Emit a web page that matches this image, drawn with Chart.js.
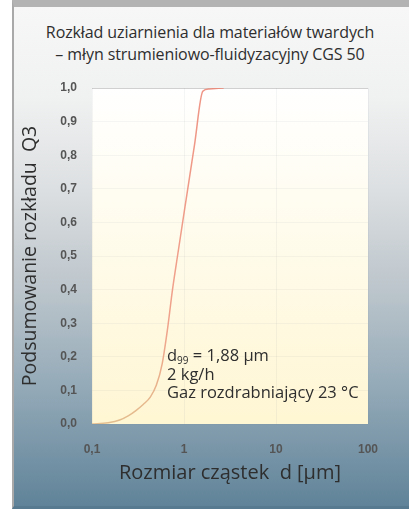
<!DOCTYPE html>
<html>
<head>
<meta charset="utf-8">
<script src="https://cdn.jsdelivr.net/npm/chart.js@4/dist/chart.umd.min.js"></script>
<style>
  html, body { margin: 0; padding: 0; background: #fff; }
  #frame {
    position: absolute; left: 12px; top: 0; width: 397px; height: 509px;
    box-sizing: border-box;
    border-top: 7px solid #b3b3b3;
    border-left: 2px solid #a9a9a9;
    border-bottom: 3px solid #577a90;
    background: linear-gradient(to bottom, #f7f7f7 0%, #f0f1f1 18%, #dde0e2 36%, #bdc6cc 56%, #94aab8 76%, #608399 100%);
  }
  #title {
    position: absolute; left: 0; top: 21px; width: 420px; text-align: center;
    font-family: "Open Sans", sans-serif; font-size: 16px; line-height: 22px; color: #2e2e2e;
    letter-spacing: -0.1px;
  }
  #wrap { position: absolute; left: 0; top: 0; width: 409px; height: 509px; }
</style>
</head>
<body>
<div id="frame"></div>
<div id="title">Rozkład uziarnienia dla materiałów twardych<br>– młyn strumieniowo-fluidyzacyjny CGS 50</div>
<div id="wrap"><canvas id="chart"></canvas></div>
<script>
// Particle size distribution
const sizes = [0.1, 0.15, 0.2, 0.25, 0.3, 0.36, 0.43, 0.5, 0.58, 0.66, 0.75, 0.85, 1.05, 1.3, 1.6, 1.88, 2.7];
const q3 = [0.0, 0.004, 0.012, 0.025, 0.04, 0.058, 0.08, 0.115, 0.18, 0.28, 0.40, 0.50, 0.665, 0.83, 0.99, 0.997, 1.0];
const xTicks = [0.1, 1, 10, 100];

// Note lines inside the plot
const noteLines = ['= 1,88 µm', '2 kg/h', 'Gaz rozdrabniający 23 °C'];

const fontFamily = '"Open Sans", sans-serif';
const textColor = '#2e2e2e';
const tickColor = '#555555';

const comma = v => String(v).replace('.', ',');

// Pale yellow plot background
const plotBg = {
    id: 'plotBg',
    beforeDraw(chart) {
        const { ctx, chartArea: a } = chart;
        const g = ctx.createLinearGradient(0, a.top, 0, a.bottom);
        g.addColorStop(0, '#ffffff');
        g.addColorStop(0.4, '#fffcee');
        g.addColorStop(1, '#fff6d3');
        ctx.save();
        ctx.fillStyle = g;
        ctx.fillRect(a.left, a.top, a.right - a.left, a.bottom - a.top);
        ctx.restore();
    }
};

// d99 note
const notes = {
    id: 'notes',
    afterDatasetsDraw(chart) {
        const { ctx, chartArea: a } = chart;
        const x = a.left + 75;
        let y = a.top + 273;
        ctx.save();
        ctx.fillStyle = textColor;
        ctx.textBaseline = 'alphabetic';
        ctx.font = '16.5px ' + fontFamily;
        ctx.fillText('d', x, y);
        const dw = ctx.measureText('d').width;
        ctx.font = '10px ' + fontFamily;
        ctx.fillText('99', x + dw, y + 3);
        const sw = ctx.measureText('99').width;
        ctx.font = '16.5px ' + fontFamily;
        ctx.fillText(' ' + noteLines[0], x + dw + sw, y);
        for (let i = 1; i < noteLines.length; i++) {
            y += 18.5;
            ctx.fillText(noteLines[i], x, y);
        }
        ctx.restore();
    }
};

new Chart(document.getElementById('chart'), {
    type: 'line',
    data: {
        labels: sizes,
        datasets: [{
            data: sizes.map((s, i) => ({ x: s, y: q3[i] })),
            borderColor: context => {
                const a = context.chart.chartArea;
                if (!a) return '#ec9a88';
                const g = context.chart.ctx.createLinearGradient(0, a.top, 0, a.bottom);
                g.addColorStop(0, 'rgba(236,130,112,0.85)');
                g.addColorStop(0.7, 'rgba(236,140,118,0.8)');
                g.addColorStop(1, 'rgba(222,180,130,0.85)');
                return g;
            },
            borderWidth: 1.5,
            pointRadius: 0,
            cubicInterpolationMode: 'monotone',
            fill: false
        }]
    },
    options: {
        responsive: true,
        maintainAspectRatio: false,
        animation: false,
        layout: { padding: { top: 88, right: 41, bottom: 0, left: 0 } },
        plugins: {
            legend: { display: false },
            tooltip: { enabled: false }
        },
        scales: {
            x: {
                type: 'logarithmic',
                min: 0.1,
                max: 100,
                afterBuildTicks: scale => { scale.ticks = xTicks.map(v => ({ value: v })); },
                afterFit: scale => { scale.height = 85; },
                ticks: {
                    callback: v => comma(v),
                    color: tickColor,
                    font: { family: '"Liberation Sans", Arial, sans-serif', size: 12, weight: 'bold' },
                    padding: 18,
                    maxRotation: 0
                },
                grid: { color: 'rgba(120,130,140,0.08)', drawTicks: false },
                border: { display: false },
                title: {
                    display: true,
                    text: 'Rozmiar cząstek  d [µm]',
                    color: textColor,
                    font: { family: fontFamily, size: 20 },
                    padding: { top: 0, bottom: 24 }
                }
            },
            y: {
                min: 0,
                max: 1,
                afterFit: scale => { scale.width = 92; },
                ticks: {
                    stepSize: 0.1,
                    callback: v => v.toFixed(1).replace('.', ','),
                    color: tickColor,
                    font: { family: '"Liberation Sans", Arial, sans-serif', size: 12, weight: 'bold' },
                    padding: 15
                },
                grid: {
                    color: c => c.tick.value === 1 ? 'rgba(120,120,120,0.35)' : 'rgba(120,130,140,0.07)',
                    drawTicks: false
                },
                border: { display: false },
                title: {
                    display: true,
                    text: 'Podsumowanie rozkładu  Q3',
                    color: textColor,
                    font: { family: fontFamily, size: 19.5 },
                    padding: { top: 19, bottom: 0 }
                }
            }
        }
    },
    plugins: [plotBg, notes]
});
</script>
</body>
</html>
